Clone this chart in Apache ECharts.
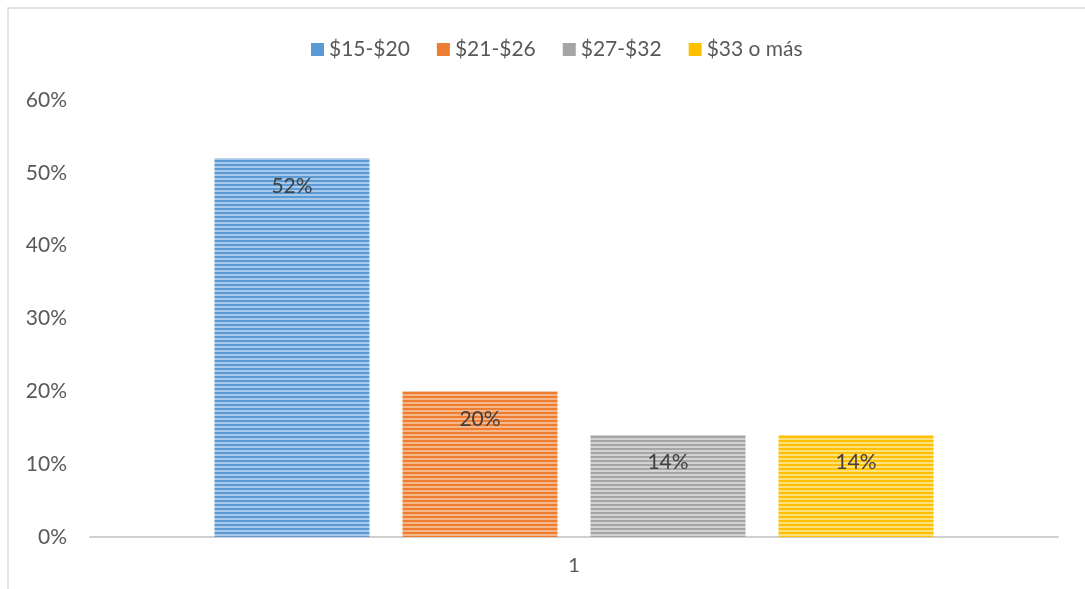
<!DOCTYPE html>
<html>
<head>
<meta charset="utf-8">
<script src="https://cdn.jsdelivr.net/npm/echarts@6/dist/echarts.min.js"></script>
<style>
html, body { margin: 0; padding: 0; background: #fff; }
#chart { width: 1085px; height: 589px; }
</style>
</head>
<body>
<div id="chart"></div>
<script>
var categories = ['1'];
var seriesNames = ['$15-$20', '$21-$26', '$27-$32', '$33 o más'];
var seriesValues = [[52], [20], [14], [14]];
var yTicks = [0, 10, 20, 30, 40, 50, 60];

var baseColors = ['#5b9bd5', '#ed7d31', '#a5a5a5', '#ffc000'];
var lightColors = ['#a9c9ea', '#f5b68a', '#d2d2d2', '#ffe07f'];

// striped fill like the original
function stripes(dark, light) {
    var c = document.createElement('canvas');
    c.width = 4; c.height = 4;
    var ctx = c.getContext('2d');
    ctx.fillStyle = light;
    ctx.fillRect(0, 0, 4, 4);
    ctx.fillStyle = dark;
    ctx.fillRect(0, 0, 4, 2);
    return c;
}

var myChart = echarts.init(document.getElementById('chart'));
var font = 'Lato, "Open Sans", sans-serif';

var series = seriesNames.map(function (name, i) {
    return {
        name: name,
        type: 'bar',
        barWidth: 155,
        barGap: '21.3%',
        itemStyle: {
            color: { image: stripes(baseColors[i], lightColors[i]), repeat: 'repeat' }
        },
        label: {
            show: true,
            position: 'insideTop',
            distance: 17,
            color: '#404040',
            fontSize: 21,
            fontFamily: font,
            formatter: function (p) { return p.value + '%'; }
        },
        data: seriesValues[i]
    };
});

var option = {
    animation: false,
    textStyle: { fontFamily: font },
    graphic: [{
        type: 'rect',
        shape: { x: 8, y: 8, width: 1090, height: 600 },
        style: { fill: 'none', stroke: '#d9d9d9', lineWidth: 1.5 },
        silent: true
    }],
    legend: {
        top: 34,
        left: 306,
        itemWidth: 13,
        itemHeight: 13,
        itemGap: 27,
        icon: 'rect',
        textStyle: { color: '#595959', fontSize: 21, fontFamily: font },
        data: seriesNames.map(function (n, i) {
            return { name: n, itemStyle: { color: baseColors[i] } };
        })
    },
    grid: {
        left: 90,
        right: 27,
        top: 100,
        bottom: 52,
        containLabel: false
    },
    xAxis: {
        type: 'category',
        data: categories,
        axisLine: { lineStyle: { color: '#d0d0d0', width: 2 } },
        axisTick: { show: false },
        axisLabel: { color: '#595959', fontSize: 20, margin: 19, fontFamily: font }
    },
    yAxis: {
        type: 'value',
        min: yTicks[0],
        max: yTicks[yTicks.length - 1],
        interval: 10,
        axisLine: { show: false },
        axisTick: { show: false },
        splitLine: { show: false },
        axisLabel: {
            color: '#595959',
            fontSize: 21,
            margin: 23,
            fontFamily: font,
            formatter: '{value}%'
        }
    },
    series: series
};
myChart.setOption(option);
</script>
</body>
</html>
